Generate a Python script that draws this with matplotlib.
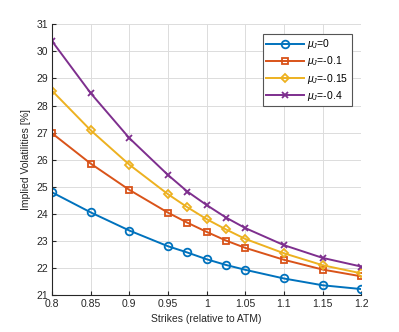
import matplotlib
matplotlib.use("Agg")
import matplotlib.pyplot as plt

strikes = [0.8, 0.85, 0.9, 0.95, 0.975, 1.0, 1.025, 1.05, 1.1, 1.15, 1.2]
iv_mu0 = [24.80, 24.06, 23.39, 22.81, 22.58, 22.33, 22.12, 21.94, 21.62, 21.37, 21.23]
iv_mu01 = [26.98, 25.86, 24.89, 24.05, 23.68, 23.34, 23.02, 22.75, 22.31, 21.95, 21.70]
iv_mu015 = [28.55, 27.09, 25.82, 24.73, 24.25, 23.81, 23.43, 23.08, 22.55, 22.11, 21.81]
iv_mu04 = [30.38, 28.46, 26.80, 25.44, 24.83, 24.33, 23.87, 23.48, 22.85, 22.38, 22.06]
labels = [r"$\mu_J$=0", r"$\mu_J$=-0.1", r"$\mu_J$=-0.15", r"$\mu_J$=-0.4"]
colors = ["#0072BD", "#D95319", "#EDB120", "#7E2F8E"]
markers = ["o", "s", "D", "x"]
xticks = [0.8, 0.85, 0.9, 0.95, 1.0, 1.05, 1.1, 1.15, 1.2]
xticklabels = ["0.8", "0.85", "0.9", "0.95", "1", "1.05", "1.1", "1.15", "1.2"]
yticks = list(range(21, 32))

plt.rcParams['font.family'] = ['Liberation Sans', 'DejaVu Sans']
plt.rcParams['mathtext.fontset'] = 'custom'
plt.rcParams['mathtext.it'] = 'Liberation Sans:italic'
plt.rcParams['mathtext.rm'] = 'Liberation Sans'

fig = plt.figure(figsize=(3.99, 3.32), dpi=100)
ax = fig.add_axes([52/399, 1 - 295.3/332, (361.3-52)/399, (295.3-24.3)/332])

series = [iv_mu0, iv_mu01, iv_mu015, iv_mu04]
for ys, c, m, lab in zip(series, colors, markers, labels):
    ms = 5.5 if m in ("o",) else 4.5
    ax.plot(strikes, ys, color=c, marker=m, lw=1.4, ms=ms, mfc='none',
            mew=1.3, label=lab)

ax.set_xlim(0.8, 1.2)
ax.set_ylim(21, 31)
ax.set_xticks(xticks)
ax.set_xticklabels(xticklabels)
ax.set_yticks(yticks)
ax.grid(True, color='#dcdcdc', lw=0.7)
ax.set_axisbelow(True)
for s in ['top', 'right']:
    ax.spines[s].set_visible(False)
for s in ['left', 'bottom']:
    ax.spines[s].set_color('#262626')
    ax.spines[s].set_linewidth(0.8)
ax.tick_params(direction='in', length=3, labelsize=7.5, colors='#262626', pad=3)
ax.set_xlabel("Strikes (relative to ATM)", fontsize=7.5, color='#262626', labelpad=3)
ax.set_ylabel("Implied Volatilities [%]", fontsize=7.5, color='#262626', labelpad=4)

leg = ax.legend(loc='upper right', bbox_to_anchor=((351.7-52)/(361.3-52), 1 - (33.7-24.3)/271),
                borderaxespad=0, fontsize=7.5, frameon=True, fancybox=False, edgecolor='#555555',
                framealpha=1, handlelength=3.6, borderpad=0.35, labelspacing=0.3,
                handletextpad=0.3)
leg.get_frame().set_linewidth(0.8)

fig.savefig("out.png", dpi=100)
